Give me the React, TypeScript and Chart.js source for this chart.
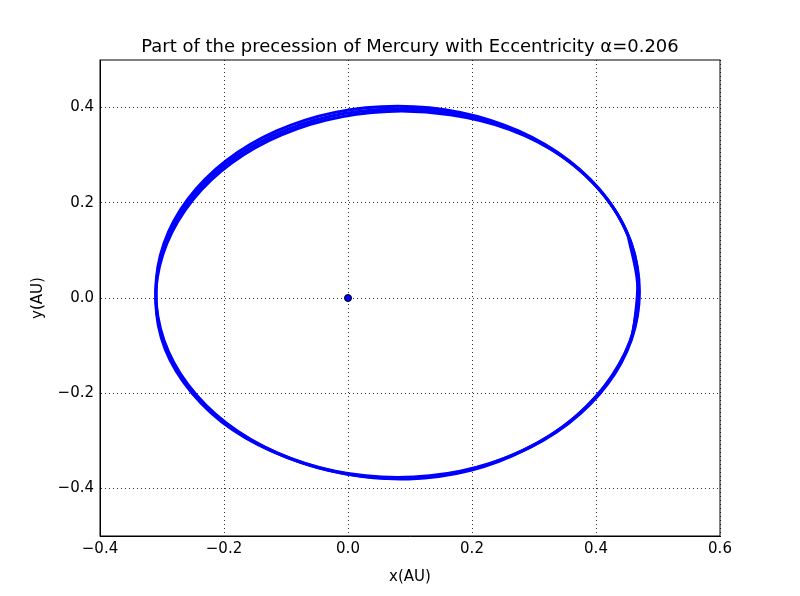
import React, { useEffect, useRef } from "react";
import Chart from "chart.js/auto";

// orbit outlines (x, y in AU), a few passes with slight precession
const orbitAX = [0.47, 0.457, 0.418, 0.356, 0.275, 0.181, 0.08, -0.021, -0.115, -0.196, -0.258, -0.297, -0.31, -0.297, -0.258, -0.196, -0.115, -0.021, 0.08, 0.181, 0.275, 0.356, 0.418, 0.457, 0.47];
const orbitAY = [0.013, 0.114, 0.208, 0.289, 0.351, 0.39, 0.403, 0.39, 0.351, 0.289, 0.208, 0.114, 0.013, -0.088, -0.182, -0.263, -0.325, -0.364, -0.377, -0.364, -0.325, -0.263, -0.182, -0.088, 0.013];
const orbitBX = [0.469, 0.455, 0.414, 0.35, 0.268, 0.173, 0.072, -0.028, -0.121, -0.201, -0.261, -0.298, -0.31, -0.296, -0.255, -0.191, -0.107, -0.012, 0.089, 0.189, 0.282, 0.361, 0.422, 0.459, 0.469];
const orbitBY = [0.022, 0.122, 0.214, 0.293, 0.352, 0.388, 0.397, 0.382, 0.341, 0.277, 0.196, 0.102, 0.003, -0.097, -0.19, -0.27, -0.33, -0.367, -0.379, -0.363, -0.32, -0.256, -0.172, -0.077, 0.022];
const orbitCX = [0.467, 0.452, 0.41, 0.345, 0.261, 0.165, 0.064, -0.035, -0.127, -0.205, -0.263, -0.299, -0.31, -0.295, -0.252, -0.186, -0.099, -0.003, 0.098, 0.198, 0.29, 0.367, 0.426, 0.461, 0.467];
const orbitCY = [0.031, 0.13, 0.221, 0.298, 0.354, 0.385, 0.392, 0.374, 0.331, 0.266, 0.184, 0.09, -0.008, -0.107, -0.199, -0.277, -0.335, -0.37, -0.38, -0.362, -0.316, -0.249, -0.163, -0.066, 0.031];
const sunX = [0];
const sunY = [0];
const xTicks = [-0.4, -0.2, 0, 0.2, 0.4, 0.6];
const yTicks = [-0.4, -0.2, 0, 0.2, 0.4];
const TITLE = "Part of the precession of Mercury with Eccentricity \u03b1=0.206";

// closed loop: carry one point past each end so the spline joins smoothly
const loop = (xs: number[], ys: number[]) => {
  const p = xs.map((x, i) => ({ x, y: ys[i] }));
  const n = p.length;
  return [p[n - 2], ...p, p[1]];
};
const fmt = (v: number) => v.toFixed(1).replace("-", "\u2212");
const FONT = "'DejaVu Sans', sans-serif";

export default function App() {
  const ref = useRef<HTMLCanvasElement>(null);
  useEffect(() => {
    document.body.style.margin = "0";
    const orbit = (xs: number[], ys: number[]) => ({
      data: loop(xs, ys),
      showLine: true,
      borderColor: "#0000ff",
      borderWidth: 3,
      pointRadius: 0,
      tension: 0.33,
    });
    const chart = new Chart(ref.current!, {
      type: "scatter",
      data: {
        datasets: [
          orbit(orbitAX, orbitAY),
          orbit(orbitBX, orbitBY),
          orbit(orbitCX, orbitCY),
          {
            data: sunX.map((x, i) => ({ x, y: sunY[i] })),
            pointRadius: 3.5,
            backgroundColor: "#0000ff",
            borderColor: "#000",
            borderWidth: 1,
          },
        ],
      },
      options: {
        animation: false,
        responsive: false,
        layout: { padding: { right: 80, top: 60 } },
        plugins: {
          legend: { display: false },
          tooltip: { enabled: false },
          title: { display: false },
        },
        scales: {
          x: {
            type: "linear",
            min: -0.4,
            max: 0.6,
            afterBuildTicks: (s: any) => { s.ticks = xTicks.map((v) => ({ value: v })); },
            afterFit: (s: any) => { s.height = 60; },
            ticks: { color: "#000", font: { family: FONT, size: 15 }, callback: (v: any) => fmt(+v), padding: 4 },
            grid: { color: "#000", lineWidth: 0.8, tickLength: 0 } as any,
            border: { color: "#000", width: 1, dash: [1, 3] } as any,
            title: { display: true, text: "x(AU)", color: "#000", font: { family: FONT, size: 15 }, padding: { top: 4, bottom: 10 } },
          },
          y: {
            type: "linear",
            min: -0.5,
            max: 0.5,
            afterBuildTicks: (s: any) => { s.ticks = yTicks.map((v) => ({ value: v })); },
            afterFit: (s: any) => { s.width = 100; },
            ticks: { color: "#000", font: { family: FONT, size: 15 }, callback: (v: any) => fmt(+v), padding: 6 },
            grid: { color: "#000", lineWidth: 0.8, tickLength: 0 } as any,
            border: { color: "#000", width: 1, dash: [1, 3] } as any,
            title: { display: true, text: "y(AU)", color: "#000", font: { family: FONT, size: 15 }, padding: { top: 29, bottom: 4 } },
          },
        },
      },
      plugins: [
        {
          id: "frame",
          afterDraw: (c: any) => {
            const { left, right, top, bottom } = c.chartArea;
            const ctx = c.ctx;
            ctx.save();
            ctx.strokeStyle = "#000";
            ctx.lineWidth = 1;
            ctx.setLineDash([]);
            ctx.strokeRect(left, top, right - left, bottom - top);
            ctx.fillStyle = "#000";
            ctx.font = `18px ${FONT}`;
            ctx.textAlign = "center";
            ctx.textBaseline = "middle";
            ctx.fillText(TITLE, (left + right) / 2, 47);
            ctx.restore();
          },
        },
      ],
    });
    return () => chart.destroy();
  }, []);
  return (
    <div style={{ width: 800, height: 596, background: "#fff" }}>
      <canvas ref={ref} width={800} height={596} />
    </div>
  );
}
